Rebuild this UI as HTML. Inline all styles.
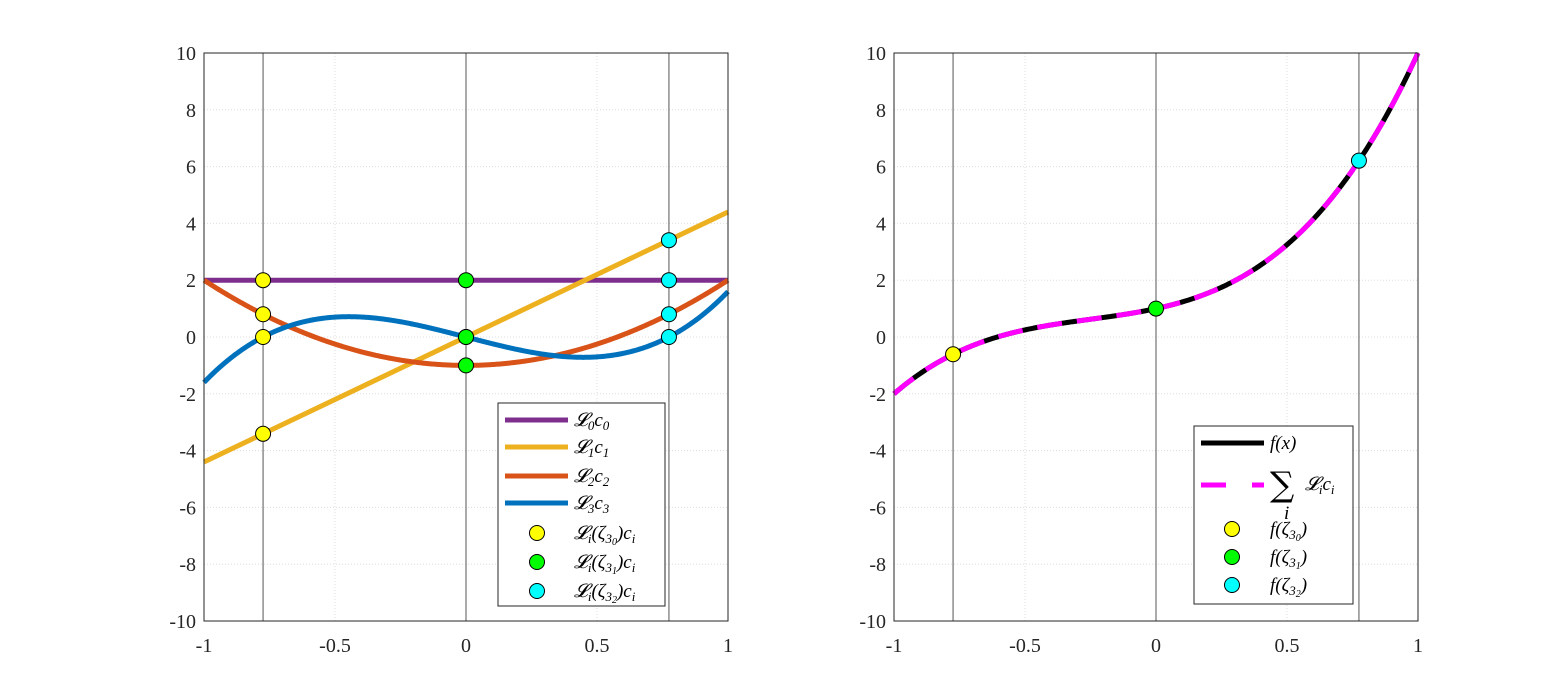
<!DOCTYPE html>
<html><head><meta charset="utf-8"><style>
body{margin:0;background:#fff;}
svg{display:block;font-family:"Liberation Serif",serif;}
.t{font-size:20px;fill:#262626;}
.lg{font-size:19px;font-style:italic;fill:#000;}
</style></head><body>
<svg id="s" width="1568" height="698" viewBox="0 0 1568 698"></svg>
<script>
const S=document.getElementById('s');let h='';
const Y0=53,Y1=621;
function py(v){return Y0+(10-v)/20*(Y1-Y0);}
function axes(x0){
 const px=v=>x0+(v+1)/2*524;
 h+=`<rect x="${x0}" y="${Y0}" width="524" height="${Y1-Y0}" fill="#fff"/>`;
 for(let v=-10;v<=10;v+=2){const y=py(v);h+=`<line x1="${x0}" x2="${x0+524}" y1="${y}" y2="${y}" stroke="#ddd" stroke-width="1" stroke-dasharray="1,2"/>`;
  h+=`<text class="t" x="${x0-8}" y="${y+7}" text-anchor="end">${v}</text>`;}
 for(const v of[-1,-0.5,0,0.5,1]){const x=px(v);h+=`<line x1="${x}" x2="${x}" y1="${Y0}" y2="${Y1}" stroke="#ddd" stroke-dasharray="1,2"/>`;
  h+=`<text class="t" x="${x}" y="${Y1+31}" text-anchor="middle">${v}</text>`;}
 for(const v of[-0.7746,0,0.7746]){const x=px(v);h+=`<line x1="${x}" x2="${x}" y1="${Y0}" y2="${Y1}" stroke="#555" stroke-width="1"/>`;}
 return px;
}
function path(px,f,col,w,dash){let d='';for(let i=0;i<=400;i++){const x=-1+i/200;d+=(i?'L':'M')+px(x).toFixed(2)+','+py(f(x)).toFixed(2);}
 h+=`<path d="${d}" fill="none" stroke="${col}" stroke-width="${w}" ${dash?'stroke-dasharray="'+dash+'"':''}/>`;}
function dot(x,y,c){h+=`<circle cx="${x}" cy="${y}" r="7.5" fill="${c}" stroke="#000" stroke-width="1"/>`;}
const fs=[x=>2,x=>4.4*x,x=>3*x*x-1,x=>4*x*x*x-2.4*x];
const cols=['#7E2F8E','#EDB120','#D95319','#0072BD'];
const z=[-0.7746,0,0.7746],zc=['#ffff00','#00ff00','#00ffff'];
let px=axes(204);
fs.forEach((f,i)=>path(px,f,cols[i],5));
z.forEach((x,j)=>fs.forEach(f=>dot(px(x),py(f(x)),zc[j])));
h+=`<rect x="204" y="${Y0}" width="524" height="${Y1-Y0}" fill="none" stroke="#262626"/>`;
h+=`<rect x="498" y="403" width="167" height="203" fill="#fff" stroke="#262626"/>`;
const ll=['𝓛<tspan font-size="13" dy="4">0</tspan><tspan dy="-4">c</tspan><tspan font-size="13" dy="4">0</tspan>','𝓛<tspan font-size="13" dy="4">1</tspan><tspan dy="-4">c</tspan><tspan font-size="13" dy="4">1</tspan>','𝓛<tspan font-size="13" dy="4">2</tspan><tspan dy="-4">c</tspan><tspan font-size="13" dy="4">2</tspan>','𝓛<tspan font-size="13" dy="4">3</tspan><tspan dy="-4">c</tspan><tspan font-size="13" dy="4">3</tspan>'];
[420,447,476,503].forEach((y,i)=>{h+=`<line x1="505" x2="568" y1="${y}" y2="${y}" stroke="${cols[i]}" stroke-width="5"/><text class="lg" x="574" y="${y+6}">${ll[i]}</text>`;});
[533,562,591].forEach((y,j)=>{dot(537,y,zc[j]);h+=`<text class="lg" x="574" y="${y+6}">𝓛<tspan font-size="13" dy="4">i</tspan><tspan dy="-4">(ζ</tspan><tspan font-size="13" dy="4">3</tspan><tspan font-size="10" dy="2">${j}</tspan><tspan dy="-6">)c</tspan><tspan font-size="13" dy="4">i</tspan></text>`;});
px=axes(894);
const F=x=>1+2*x+3*x*x+4*x*x*x;
path(px,F,'#000',5);path(px,F,'#ff00ff',5,'25,15');
z.forEach((x,j)=>dot(px(x),py(F(x)),zc[j]));
h+=`<rect x="894" y="${Y0}" width="524" height="${Y1-Y0}" fill="none" stroke="#262626"/>`;
h+=`<rect x="1194" y="426" width="159" height="178" fill="#fff" stroke="#262626"/>`;
h+=`<line x1="1201" x2="1264" y1="443" y2="443" stroke="#000" stroke-width="5"/><text class="lg" x="1270" y="449">f(x)</text>`;
h+=`<line x1="1201" x2="1226" y1="485" y2="485" stroke="#ff00ff" stroke-width="5"/><line x1="1252" x2="1264" y1="485" y2="485" stroke="#ff00ff" stroke-width="5"/>`;
h+=`<text x="1270" y="496" font-size="34" font-family="DejaVu Serif,serif">∑</text><text class="lg" x="1284" y="519" font-size="14">i</text><text class="lg" x="1305" y="490">𝓛<tspan font-size="13" dy="4">i</tspan><tspan dy="-4">c</tspan><tspan font-size="13" dy="4">i</tspan></text>`;
[529,557,585].forEach((y,j)=>{dot(1232,y,zc[j]);h+=`<text class="lg" x="1270" y="${y+6}">f(ζ<tspan font-size="13" dy="4">3</tspan><tspan font-size="10" dy="2">${j}</tspan><tspan dy="-6">)</tspan></text>`;});
S.innerHTML=h;
</script>
</body></html>
